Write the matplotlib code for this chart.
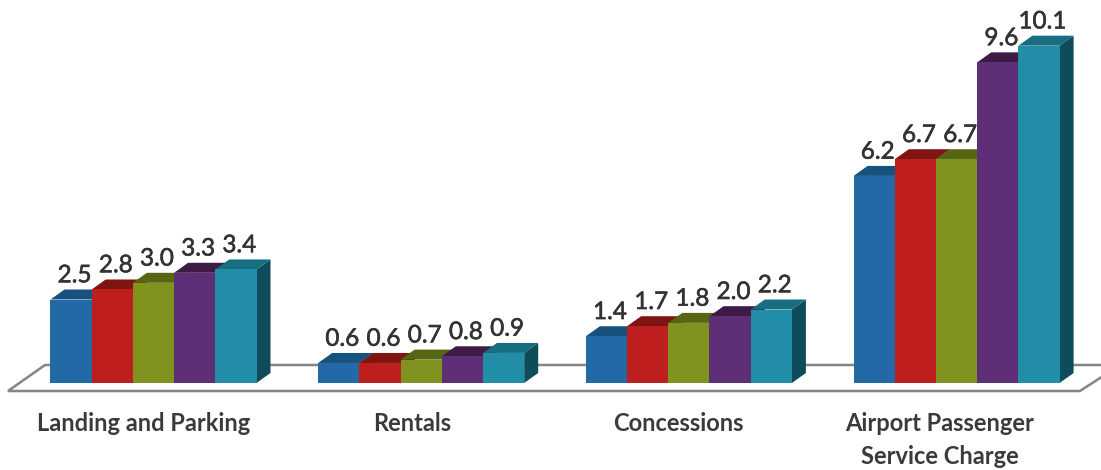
import matplotlib
matplotlib.use("Agg")
import matplotlib.pyplot as plt
import matplotlib.patheffects as pe
from matplotlib.patches import Polygon
from matplotlib.transforms import Affine2D

categories = ["Landing and Parking", "Rentals", "Concessions", "Airport Passenger\nService Charge"]
series_1 = [2.5, 0.6, 1.4, 6.2]
series_2 = [2.8, 0.6, 1.7, 6.7]
series_3 = [3.0, 0.7, 1.8, 6.7]
series_4 = [3.3, 0.8, 2.0, 9.6]
series_5 = [3.4, 0.9, 2.2, 10.1]
all_series = [series_1, series_2, series_3, series_4, series_5]

# front, top and side shades per series
front_colors = ["#2369A6", "#BE1F1E", "#80931F", "#5E2F77", "#218DA6"]
top_colors = ["#17527F", "#7E1512", "#566714", "#3E1B45", "#176E80"]
side_colors = ["#124263", "#5E100E", "#43500F", "#2E1434", "#0F4C5B"]

W, H = 1101, 470
BASE_Y = 383
PX_PER_UNIT = 33.4
GROUP_STEP = 267.7
FIRST_CENTER = 153.5
BAR_W = 41.2 / GROUP_STEP
DX = 14 / GROUP_STEP
DY = 10 / PX_PER_UNIT
# pixel shift of each category name from its group's centre
name_shift = [-10, -9, -11, -17]

fig = plt.figure(figsize=(W / 100, H / 100), dpi=100, facecolor="white")
ax = fig.add_axes([0, 0, 1, 1])
ax.set_xlim(-FIRST_CENTER / GROUP_STEP, (W - FIRST_CENTER) / GROUP_STEP)
ax.set_ylim(-(H - BASE_Y) / PX_PER_UNIT, BASE_Y / PX_PER_UNIT)
ax.axis("off")

# floor slab, laid out in pixels
px = Affine2D().scale(1, -1).translate(0, H)
floor = Polygon([(8, 391), (45, 365), (1120, 365), (1080, 391)], closed=True,
                facecolor="white", edgecolor="#858585", linewidth=1.8,
                transform=px, zorder=1)
ax.add_patch(floor)

order = 2
for g in range(len(categories)):
    for s, values in enumerate(all_series):
        v = values[g]
        x0 = g + (s - 2.5) * BAR_W
        x1 = x0 + BAR_W
        ax.add_patch(Polygon([(x1, 0), (x1 + DX, DY), (x1 + DX, v + DY), (x1, v)],
                             facecolor=side_colors[s], edgecolor="none", zorder=order))
        ax.add_patch(Polygon([(x0, v), (x0 + DX, v + DY), (x1 + DX, v + DY), (x1, v)],
                             facecolor=top_colors[s], edgecolor="none", zorder=order))
        ax.bar(x0, v, width=BAR_W, align="edge", color=front_colors[s],
               linewidth=0, zorder=order + 1)
        label = ax.annotate(f"{v:.1f}", (x0 + BAR_W / 2, v), xytext=(2.5, 9.5),
                            textcoords="offset points", ha="center", va="bottom",
                            fontsize=17.5, family="Lato", color="#333333", zorder=50)
        label.set_path_effects([pe.withStroke(linewidth=0.4, foreground="#333333")])
        order += 2

for g, name in enumerate(categories):
    ax.text(g + name_shift[g] / GROUP_STEP, -(412 - BASE_Y) / PX_PER_UNIT, name, ha="center",
            va="top", fontsize=17, family="Lato", fontweight="bold", color="#3A3A3A",
            linespacing=1.55)

fig.savefig("out.png", dpi=100, facecolor="white")
